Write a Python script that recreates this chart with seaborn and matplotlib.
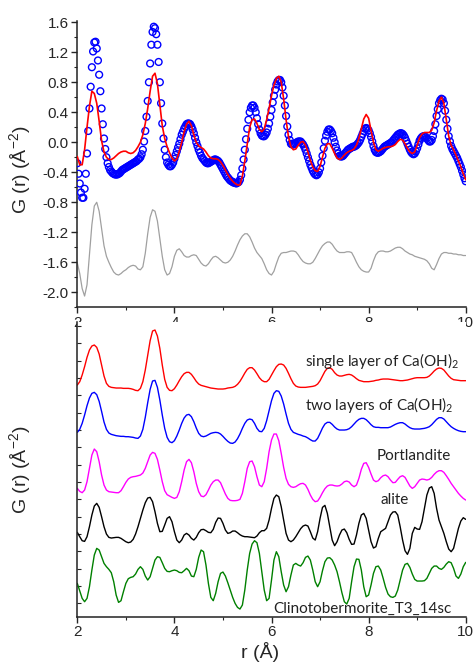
import numpy as np
import matplotlib
matplotlib.use("Agg")
import matplotlib.pyplot as plt
from matplotlib.ticker import MultipleLocator, NullLocator, NullFormatter
import seaborn as sns

sns.set_style("ticks")
plt.rcParams['font.family'] = ['Liberation Sans', 'DejaVu Sans']
plt.rcParams['mathtext.default'] = 'regular'

# r grids: 0.025 A for the measured points, 0.05 A for the curves
r_exp = np.round(np.linspace(2.0, 10.0, 321), 3)
r = np.round(np.linspace(2.0, 10.0, 161), 2)

# --- top panel: experiment (circles), fit, difference ---
g_exp = [
    -0.28, -0.42, -0.55, -0.67, -0.74, -0.74, -0.62, -0.42, -0.15, 0.15,
    0.45, 0.74, 1.00, 1.21, 1.33, 1.34, 1.25, 1.09, 0.90, 0.68,
    0.45, 0.24, 0.05, -0.09, -0.20, -0.28, -0.33, -0.37, -0.39, -0.41,
    -0.42, -0.43, -0.43, -0.43, -0.42, -0.41, -0.39, -0.37, -0.36, -0.35,
    -0.34, -0.33, -0.32, -0.31, -0.30, -0.29, -0.28, -0.27, -0.26, -0.25,
    -0.23, -0.22, -0.20, -0.16, -0.10, 0.01, 0.15, 0.34, 0.55, 0.80,
    1.05, 1.30, 1.47, 1.54, 1.52, 1.44, 1.30, 1.07, 0.80, 0.52,
    0.25, 0.05, -0.10, -0.20, -0.27, -0.30, -0.32, -0.32, -0.30, -0.27,
    -0.22, -0.17, -0.12, -0.07, -0.02, 0.04, 0.10, 0.14, 0.18, 0.21,
    0.24, 0.25, 0.25, 0.24, 0.21, 0.17, 0.12, 0.06, 0.00, -0.05,
    -0.10, -0.14, -0.18, -0.21, -0.23, -0.25, -0.27, -0.28, -0.28, -0.27,
    -0.26, -0.25, -0.24, -0.23, -0.23, -0.24, -0.25, -0.27, -0.30, -0.33,
    -0.36, -0.39, -0.42, -0.45, -0.47, -0.49, -0.51, -0.52, -0.53, -0.54,
    -0.54, -0.55, -0.54, -0.53, -0.50, -0.44, -0.35, -0.23, -0.10, 0.04,
    0.18, 0.30, 0.40, 0.46, 0.49, 0.49, 0.46, 0.40, 0.32, 0.24,
    0.17, 0.12, 0.09, 0.08, 0.08, 0.10, 0.13, 0.18, 0.25, 0.34,
    0.43, 0.53, 0.62, 0.70, 0.77, 0.81, 0.83, 0.83, 0.80, 0.73,
    0.62, 0.49, 0.35, 0.21, 0.10, 0.03, -0.02, -0.03, -0.03, -0.02,
    -0.01, 0.00, 0.01, 0.01, 0.01, -0.01, -0.03, -0.06, -0.10, -0.15,
    -0.20, -0.25, -0.30, -0.34, -0.38, -0.41, -0.43, -0.44, -0.43, -0.40,
    -0.35, -0.27, -0.18, -0.08, 0.02, 0.09, 0.14, 0.17, 0.17, 0.15,
    0.12, 0.06, 0.00, -0.06, -0.11, -0.15, -0.18, -0.19, -0.19, -0.18,
    -0.16, -0.14, -0.12, -0.10, -0.09, -0.08, -0.07, -0.06, -0.06, -0.05,
    -0.04, -0.02, 0.00, 0.03, 0.07, 0.11, 0.15, 0.18, 0.19, 0.18,
    0.16, 0.12, 0.07, 0.01, -0.05, -0.10, -0.13, -0.14, -0.14, -0.13,
    -0.12, -0.10, -0.08, -0.06, -0.05, -0.04, -0.03, -0.02, -0.01, 0.00,
    0.02, 0.04, 0.06, 0.08, 0.10, 0.11, 0.12, 0.12, 0.11, 0.09,
    0.06, 0.02, -0.02, -0.06, -0.10, -0.13, -0.15, -0.16, -0.15, -0.12,
    -0.08, -0.03, 0.02, 0.05, 0.07, 0.08, 0.08, 0.07, 0.05, 0.03,
    0.01, 0.01, 0.03, 0.08, 0.15, 0.24, 0.35, 0.44, 0.52, 0.56,
    0.58, 0.57, 0.52, 0.42, 0.30, 0.18, 0.08, 0.01, -0.05, -0.09,
    -0.12, -0.15, -0.18, -0.21, -0.25, -0.29, -0.33, -0.38, -0.43, -0.48,
    -0.52,
]
g_fit = [
    -0.19, -0.30, -0.30, -0.10, 0.20, 0.48, 0.68, 0.65, 0.52, 0.28,
    0.02, -0.13, -0.20, -0.23, -0.23, -0.21, -0.18, -0.15, -0.13, -0.12,
    -0.12, -0.14, -0.15, -0.14, -0.11, -0.06, 0.00, 0.10, 0.25, 0.45,
    0.68, 0.88, 0.92, 0.78, 0.50, 0.22, 0.05, -0.06, -0.14, -0.21,
    -0.25, -0.22, -0.12, 0.00, 0.14, 0.24, 0.28, 0.22, 0.10, 0.00,
    -0.05, -0.07, -0.09, -0.13, -0.18, -0.21, -0.22, -0.22, -0.23, -0.26,
    -0.31, -0.37, -0.43, -0.48, -0.52, -0.55, -0.57, -0.57, -0.45, -0.25,
    -0.02, 0.20, 0.30, 0.31, 0.25, 0.17, 0.14, 0.18, 0.30, 0.45,
    0.62, 0.76, 0.85, 0.88, 0.80, 0.58, 0.30, 0.07, -0.06, -0.10,
    -0.09, -0.04, 0.00, 0.01, -0.04, -0.13, -0.24, -0.33, -0.38, -0.39,
    -0.32, -0.20, -0.08, -0.02, -0.02, -0.08, -0.15, -0.21, -0.23, -0.21,
    -0.17, -0.14, -0.12, -0.11, -0.09, -0.04, 0.05, 0.18, 0.31, 0.37,
    0.32, 0.16, 0.00, -0.10, -0.12, -0.10, -0.08, -0.07, -0.06, -0.06,
    -0.05, -0.03, 0.01, 0.04, 0.03, -0.02, -0.08, -0.13, -0.15, -0.13,
    -0.04, 0.06, 0.11, 0.13, 0.13, 0.13, 0.16, 0.26, 0.42, 0.55,
    0.60, 0.52, 0.30, 0.08, -0.04, -0.10, -0.17, -0.25, -0.33, -0.42,
    -0.50,
]
g_diff = [
    -1.61, -1.75, -1.95, -2.05, -1.90, -1.50, -1.10, -0.85, -0.80, -0.92,
    -1.15, -1.38, -1.52, -1.60, -1.67, -1.73, -1.76, -1.77, -1.75, -1.72,
    -1.70, -1.67, -1.65, -1.64, -1.65, -1.69, -1.70, -1.66, -1.48, -1.22,
    -1.00, -0.90, -0.92, -1.05, -1.28, -1.52, -1.70, -1.77, -1.75, -1.66,
    -1.52, -1.44, -1.42, -1.46, -1.51, -1.53, -1.53, -1.51, -1.50, -1.51,
    -1.56, -1.61, -1.64, -1.65, -1.62, -1.57, -1.53, -1.52, -1.54, -1.57,
    -1.60, -1.61, -1.60, -1.57, -1.52, -1.45, -1.37, -1.30, -1.25, -1.22,
    -1.22, -1.26, -1.33, -1.41, -1.47, -1.51, -1.55, -1.62, -1.70, -1.75,
    -1.77, -1.72, -1.62, -1.53, -1.48, -1.47, -1.47, -1.46, -1.45, -1.45,
    -1.46, -1.50, -1.55, -1.59, -1.61, -1.62, -1.62, -1.60, -1.55, -1.49,
    -1.43, -1.38, -1.35, -1.33, -1.33, -1.36, -1.41, -1.45, -1.47, -1.47,
    -1.47, -1.46, -1.46, -1.47, -1.53, -1.60, -1.66, -1.70, -1.72, -1.73,
    -1.73, -1.68, -1.58, -1.50, -1.46, -1.45, -1.45, -1.46, -1.46, -1.45,
    -1.43, -1.41, -1.40, -1.40, -1.42, -1.45, -1.47, -1.49, -1.50, -1.52,
    -1.53, -1.54, -1.55, -1.56, -1.58, -1.62, -1.68, -1.70, -1.63, -1.55,
    -1.49, -1.47, -1.47, -1.48, -1.48, -1.49, -1.49, -1.50, -1.50, -1.51,
    -1.51,
]

# --- bottom panel: stacked simulated G(r), arbitrary offsets ---
single_layer = [
    6.95, 7.05, 7.25, 7.50, 7.78, 8.00, 8.12, 8.15, 8.08, 7.88,
    7.55, 7.22, 7.00, 6.91, 6.88, 6.87, 6.86, 6.86, 6.86, 6.85,
    6.85, 6.85, 6.84, 6.82, 6.79, 6.78, 6.85, 7.05, 7.40, 7.85,
    8.28, 8.57, 8.60, 8.42, 8.05, 7.55, 7.12, 6.88, 6.79, 6.78,
    6.84, 6.95, 7.08, 7.20, 7.29, 7.33, 7.33, 7.27, 7.17, 7.06,
    6.98, 6.94, 6.92, 6.90, 6.88, 6.86, 6.85, 6.84, 6.83, 6.83,
    6.83, 6.84, 6.86, 6.87, 6.88, 6.91, 6.97, 7.06, 7.18, 7.31,
    7.42, 7.47, 7.47, 7.40, 7.29, 7.17, 7.09, 7.05, 7.05, 7.12,
    7.25, 7.38, 7.50, 7.57, 7.58, 7.55, 7.45, 7.30, 7.14, 7.00,
    6.92, 6.89, 6.88, 6.88, 6.88, 6.89, 6.90, 6.91, 6.93, 6.98,
    7.08, 7.22, 7.36, 7.45, 7.47, 7.42, 7.32, 7.25, 7.22, 7.22,
    7.24, 7.26, 7.27, 7.25, 7.20, 7.14, 7.09, 7.07, 7.05, 7.05,
    7.05, 7.06, 7.07, 7.09, 7.10, 7.12, 7.13, 7.13, 7.13, 7.12,
    7.11, 7.10, 7.09, 7.08, 7.08, 7.09, 7.10, 7.12, 7.14, 7.16,
    7.17, 7.17, 7.17, 7.17, 7.18, 7.22, 7.29, 7.37, 7.43, 7.46,
    7.45, 7.40, 7.31, 7.22, 7.15, 7.11, 7.10, 7.09, 7.08, 7.08,
    7.08,
]
two_layers = [
    5.53, 5.62, 5.80, 6.05, 6.33, 6.56, 6.70, 6.73, 6.66, 6.46,
    6.16, 5.84, 5.62, 5.51, 5.47, 5.45, 5.43, 5.42, 5.41, 5.41,
    5.40, 5.40, 5.39, 5.38, 5.36, 5.35, 5.42, 5.62, 5.98, 6.42,
    6.82, 7.07, 7.09, 6.88, 6.50, 6.05, 5.65, 5.38, 5.25, 5.22,
    5.28, 5.42, 5.60, 5.80, 5.96, 6.05, 6.07, 6.00, 5.85, 5.66,
    5.50, 5.42, 5.40, 5.42, 5.46, 5.50, 5.52, 5.53, 5.52, 5.48,
    5.41, 5.33, 5.26, 5.21, 5.20, 5.24, 5.34, 5.48, 5.65, 5.80,
    5.90, 5.93, 5.91, 5.80, 5.65, 5.56, 5.55, 5.65, 5.88, 6.18,
    6.48, 6.70, 6.78, 6.76, 6.62, 6.38, 6.08, 5.80, 5.62, 5.53,
    5.50, 5.47, 5.45, 5.42, 5.40, 5.36, 5.31, 5.27, 5.27, 5.35,
    5.50, 5.66, 5.78, 5.83, 5.83, 5.77, 5.69, 5.63, 5.60, 5.60,
    5.60, 5.61, 5.64, 5.70, 5.78, 5.86, 5.92, 5.95, 5.95, 5.91,
    5.84, 5.76, 5.70, 5.68, 5.68, 5.67, 5.67, 5.67, 5.67, 5.69,
    5.73, 5.77, 5.80, 5.82, 5.82, 5.78, 5.72, 5.67, 5.64, 5.63,
    5.63, 5.63, 5.64, 5.65, 5.67, 5.70, 5.76, 5.84, 5.92, 5.97,
    5.97, 5.93, 5.85, 5.77, 5.70, 5.65, 5.61, 5.58, 5.56, 5.55,
    5.55,
]
portlandite = [
    3.85, 3.76, 3.72, 3.80, 4.05, 4.45, 4.85, 5.03, 4.95, 4.65,
    4.25, 3.95, 3.80, 3.75, 3.74, 3.73, 3.72, 3.72, 3.78, 3.90,
    4.03, 4.13, 4.18, 4.20, 4.21, 4.23, 4.25, 4.31, 4.45, 4.65,
    4.85, 4.93, 4.90, 4.72, 4.40, 4.05, 3.78, 3.66, 3.62, 3.58,
    3.55, 3.58, 3.75, 4.05, 4.40, 4.65, 4.72, 4.62, 4.35, 4.00,
    3.75, 3.62, 3.60, 3.66, 3.80, 3.95, 4.05, 4.10, 4.10, 4.02,
    3.85, 3.68, 3.55, 3.49, 3.48, 3.48, 3.49, 3.52, 3.70, 4.05,
    4.45, 4.65, 4.67, 4.50, 4.20, 3.95, 3.90, 4.05, 4.45, 4.95,
    5.30, 5.48, 5.48, 5.28, 4.90, 4.48, 4.15, 3.97, 3.90, 3.88,
    3.90, 3.95, 3.99, 4.00, 3.95, 3.82, 3.65, 3.52, 3.45, 3.47,
    3.58, 3.72, 3.84, 3.92, 3.95, 3.95, 3.93, 3.92, 3.93, 3.98,
    4.05, 4.07, 4.04, 3.95, 3.90, 3.95, 4.15, 4.42, 4.60, 4.62,
    4.48, 4.28, 4.10, 4.05, 4.08, 4.17, 4.23, 4.25, 4.20, 4.10,
    4.02, 4.03, 4.12, 4.20, 4.23, 4.18, 4.05, 3.92, 3.85, 3.90,
    4.00, 4.10, 4.13, 4.12, 4.10, 4.12, 4.18, 4.27, 4.34, 4.38,
    4.38, 4.33, 4.23, 4.12, 4.00, 3.90, 3.80, 3.70, 3.62, 3.55,
    3.50,
]
alite = [
    2.53, 2.40, 2.28, 2.26, 2.40, 2.70, 3.05, 3.32, 3.40, 3.28,
    3.00, 2.70, 2.48, 2.38, 2.36, 2.37, 2.38, 2.38, 2.35, 2.30,
    2.25, 2.22, 2.24, 2.32, 2.48, 2.70, 2.95, 3.20, 3.42, 3.56,
    3.58, 3.45, 3.15, 2.80, 2.55, 2.56, 2.75, 2.95, 3.00, 2.85,
    2.55, 2.30, 2.22, 2.30, 2.45, 2.50, 2.45, 2.35, 2.30, 2.38,
    2.52, 2.61, 2.62, 2.58, 2.53, 2.52, 2.62, 2.83, 2.96, 2.95,
    2.80, 2.60, 2.50, 2.52, 2.57, 2.57, 2.52, 2.46, 2.42, 2.40,
    2.40, 2.39, 2.38, 2.37, 2.42, 2.52, 2.58, 2.58, 2.65, 2.90,
    3.25, 3.55, 3.65, 3.60, 3.30, 2.90, 2.50, 2.30, 2.25, 2.30,
    2.40, 2.52, 2.64, 2.72, 2.75, 2.72, 2.55, 2.36, 2.30, 2.55,
    2.95, 3.28, 3.34, 3.10, 2.70, 2.30, 2.13, 2.25, 2.45, 2.60,
    2.63, 2.52, 2.32, 2.17, 2.18, 2.45, 2.80, 3.05, 3.10, 2.95,
    2.60, 2.25, 2.06, 2.10, 2.35, 2.55, 2.60, 2.65, 2.85, 3.05,
    3.14, 3.15, 3.05, 2.70, 2.30, 1.98, 1.87, 2.05, 2.50, 2.68,
    2.63, 2.62, 2.85, 3.25, 3.65, 3.86, 3.90, 3.70, 3.25, 2.90,
    2.70, 2.50, 2.25, 2.03, 1.95, 2.05, 2.35, 2.65, 2.87, 2.97,
    2.92,
]
clinotobermorite = [
    1.00, 0.78, 0.55, 0.45, 0.55, 0.90, 1.40, 1.85, 2.05, 2.00,
    1.80, 1.60, 1.50, 1.42, 1.32, 1.05, 0.65, 0.43, 0.48, 0.75,
    1.00, 1.14, 1.18, 1.20, 1.28, 1.42, 1.50, 1.42, 1.22, 1.10,
    1.20, 1.45, 1.70, 1.80, 1.78, 1.62, 1.45, 1.36, 1.35, 1.38,
    1.40, 1.38, 1.33, 1.32, 1.38, 1.45, 1.38, 1.22, 1.20, 1.42,
    1.78, 2.00, 1.95, 1.55, 1.00, 0.58, 0.48, 0.70, 1.05, 1.30,
    1.34, 1.22, 1.02, 0.80, 0.58, 0.40, 0.28, 0.23, 0.35, 0.80,
    1.40, 1.90, 2.18, 2.28, 2.22, 1.90, 1.35, 0.80, 0.48, 0.55,
    1.10, 1.70, 1.95, 1.80, 1.35, 0.95, 0.75, 0.90, 1.25, 1.55,
    1.60, 1.55, 1.52, 1.62, 1.78, 1.82, 1.70, 1.40, 1.05, 0.90,
    1.05, 1.38, 1.65, 1.76, 1.77, 1.70, 1.55, 1.35, 1.05, 0.72,
    0.45, 0.38, 0.55, 1.05, 1.50, 1.73, 1.72, 1.40, 0.90, 0.60,
    0.65, 0.95, 1.30, 1.50, 1.52, 1.40, 1.15, 0.88, 0.68, 0.60,
    0.58, 0.62, 0.80, 1.10, 1.40, 1.57, 1.60, 1.48, 1.28, 1.12,
    1.07, 1.07, 1.07, 1.08, 1.15, 1.30, 1.45, 1.52, 1.52, 1.45,
    1.42, 1.48, 1.58, 1.65, 1.62, 1.45, 1.22, 1.15, 1.28, 1.50,
    1.63,
]

curve_names = ["single layer of Ca(OH)$_2$", "two layers of Ca(OH)$_2$",
               "Portlandite", "alite", "Clinotobermorite_T3_14sc"]
curve_data = [single_layer, two_layers, portlandite, alite, clinotobermorite]
curve_colors = ["#ff0000", "#0000ff", "#ff00ff", "#000000", "#008000"]
# label anchor (r, G) and alignment per curve
label_pos = [(6.68, 7.67, "left"), (6.68, 6.35, "left"), (8.92, 4.83, "center"),
             (8.53, 3.50, "center"), (7.88, 0.25, "center")]

fig = plt.figure(figsize=(4.74, 6.66), dpi=100)
ax1 = fig.add_axes([0.1631, 0.5386, 0.8194, 0.4303])
ax2 = fig.add_axes([0.1631, 0.0740, 0.8194, 0.4425])

# top panel
sns.lineplot(x=r, y=g_diff, ax=ax1, color="#a0a0a0", linewidth=0.9,
             estimator=None, sort=False)
sns.scatterplot(x=r_exp, y=g_exp, ax=ax1, marker="o", s=24, facecolor="none",
                edgecolor="#0000ff", linewidth=1.0, zorder=3)
sns.lineplot(x=r, y=g_fit, ax=ax1, color="#ff0000", linewidth=1.2,
             estimator=None, sort=False, zorder=4)

ax1.set_xlim(2, 10)
ax1.set_ylim(-2.2, 1.62)
ax1.yaxis.set_major_locator(MultipleLocator(0.4))
ax1.yaxis.set_minor_locator(MultipleLocator(0.2))
ax1.yaxis.set_major_formatter(matplotlib.ticker.FormatStrFormatter("%.1f"))
ax1.set_ylabel("G (r) (Å$^{-2}$)", fontsize=14)
ax1.yaxis.set_label_coords(-0.115, 0.48)

# bottom panel
for vals, col in zip(curve_data, curve_colors):
    sns.lineplot(x=r, y=vals, ax=ax2, color=col, linewidth=1.0,
                 estimator=None, sort=False)
for name, (lx, ly, ha) in zip(curve_names, label_pos):
    ax2.text(lx, ly, name, ha=ha, va="center", fontsize=11,
             family=["Lato", "DejaVu Sans"], color="#222222")

ax2.set_xlim(2, 10)
ax2.set_ylim(0, 8.84)
ax2.yaxis.set_major_locator(NullLocator())
ax2.yaxis.set_minor_locator(MultipleLocator(0.52, offset=0.40))
ax2.yaxis.set_minor_formatter(NullFormatter())
ax2.tick_params(axis="y", which="minor", direction="in", length=3, width=0.8)
ax2.set_ylabel("G (r) (Å$^{-2}$)", fontsize=14)
ax2.yaxis.set_label_coords(-0.115, 0.5)
ax2.set_xlabel("r (Å)", fontsize=14)
ax2.xaxis.set_label_coords(0.47, -0.085)

for ax in (ax1, ax2):
    sns.despine(ax=ax)
    ax.xaxis.set_major_locator(MultipleLocator(2))
    ax.xaxis.set_minor_locator(MultipleLocator(1))
    ax.tick_params(axis="x", which="major", direction="out", length=4,
                   width=1.0, labelsize=11, pad=2)
    ax.tick_params(axis="x", which="minor", direction="out", length=2.5,
                   width=0.8)
    for s in ("left", "bottom"):
        ax.spines[s].set_linewidth(1.1)
        ax.spines[s].set_color("#222222")

ax1.tick_params(axis="y", which="major", direction="out", length=4, width=1.0,
                labelsize=11, pad=2)
ax1.tick_params(axis="y", which="minor", direction="out", length=2.5, width=0.8)

fig.savefig("out.png", dpi=100)
